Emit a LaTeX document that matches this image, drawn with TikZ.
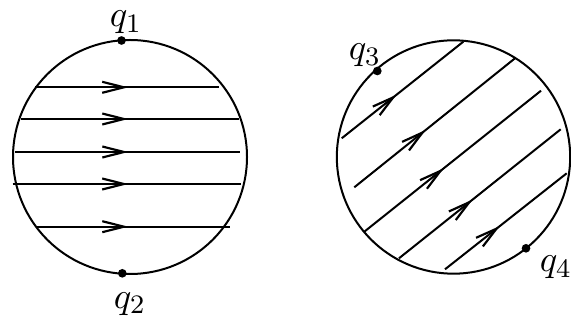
\documentclass[tikz,border=0pt]{standalone}
\usetikzlibrary{arrows.meta,decorations.markings}
\begin{document}
\begin{tikzpicture}[x=0.3pt,y=-0.3pt,
  thick line/.style={line width=0.6pt},
  flowline/.style={line width=0.6pt, postaction={decorate},
    decoration={markings, mark=at position #1 with {\arrow[line width=0.65pt]{Straight Barb[length=6.5pt,width=3.3pt]}}}},
  pt/.style={fill=black, circle, inner sep=0pt, minimum size=2.6pt},
  lbl/.style={anchor=base, inner sep=0pt, font=\fontsize{11}{13}\selectfont}]
\useasboundingbox (0,0) rectangle (571,320);
% left disc
\coordinate (cL) at (130,157);
\draw[thick line] (cL) circle[radius=35.1pt];
\coordinate (a1) at (35,87.3);   \coordinate (b1) at (219,87.3);
\coordinate (a2) at (20.7,119);  \coordinate (b2) at (239,119);
\coordinate (a3) at (15,152);    \coordinate (b3) at (240,152);
\coordinate (a4) at (12.7,184);  \coordinate (b4) at (240.7,184);
\coordinate (a5) at (36,226.7);  \coordinate (b5) at (230,226.7);
\draw[flowline=0.507] (a1) -- (b1);
\draw[flowline=0.493] (a2) -- (b2);
\draw[flowline=0.504] (a3) -- (b3);
\draw[flowline=0.507] (a4) -- (b4);
\draw[flowline=0.476] (a5) -- (b5);
\node[pt] (p1) at (121.5,40.5) {};
\node[pt] (p2) at (122.3,273.3) {};
\node[lbl] (q1) at (126,27) {$q_1$};
\node[lbl] (q2) at (130,308) {$q_2$};
% right disc
\coordinate (cR) at (453.5,157);
\draw[thick line] (cR) circle[radius=35.0pt];
\coordinate (c1) at (341.7,138.3); \coordinate (d1) at (463.3,41.7);
\coordinate (c2) at (354.3,187.3); \coordinate (d2) at (515,58.3);
\coordinate (c3) at (364.3,231.7); \coordinate (d3) at (541,90.7);
\coordinate (c4) at (399,258.3);   \coordinate (d4) at (560.7,129.3);
\coordinate (c5) at (445,269.3);   \coordinate (d5) at (566.7,173.3);
\draw[flowline=0.452] (c1) -- (d1);
\draw[flowline=0.446] (c2) -- (d2);
\draw[flowline=0.451] (c3) -- (d3);
\draw[flowline=0.456] (c4) -- (d4);
\draw[flowline=0.452] (c5) -- (d5);
\node[pt] (p3) at (377.3,71) {};
\node[pt] (p4) at (526,248.3) {};
\node[lbl] (q3) at (365,60) {$q_3$};
\node[lbl] (q4) at (556,272) {$q_4$};
\end{tikzpicture}
\end{document}
